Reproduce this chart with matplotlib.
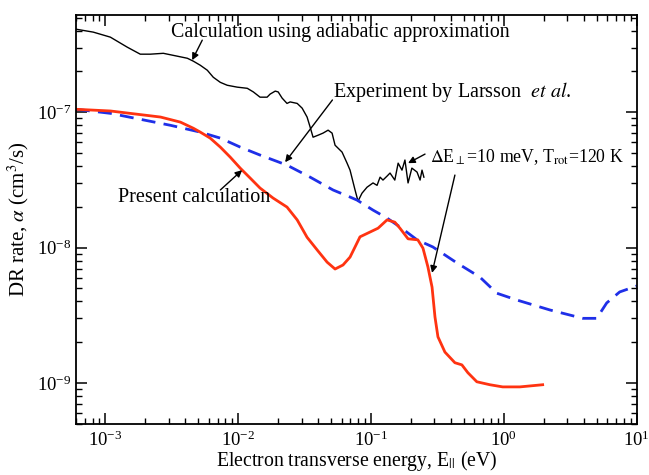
import numpy as np
import matplotlib
matplotlib.use("Agg")
import matplotlib.pyplot as plt
from matplotlib.ticker import LogLocator, NullFormatter

plt.rcParams['font.family'] = ['Liberation Serif', 'DejaVu Serif']
plt.rcParams['mathtext.fontset'] = 'stix'

# present calculation (red)
e_pres = [6.0e-4, 1.09e-3, 2.6e-3, 3.67e-3, 4.6e-3, 5.18e-3, 6.15e-3, 7.33e-3, 8.71e-3,
          1.035e-2, 1.23e-2, 1.46e-2, 1.83e-2, 2.33e-2, 2.78e-2, 3.3e-2, 3.93e-2, 4.67e-2,
          5.36e-2, 6.15e-2, 6.95e-2, 7.58e-2, 8.26e-2, 9.8e-2, 0.113, 0.132, 0.151, 0.165,
          0.19, 0.225, 0.246, 0.268, 0.288, 0.303, 0.319, 0.36, 0.428, 0.483, 0.536, 0.626,
          0.785, 0.98, 1.32, 1.96]
a_pres = [1.05e-7, 1.02e-7, 9.2e-8, 8.44e-8, 7.6e-8, 7.12e-8, 6.43e-8, 5.52e-8, 4.65e-8,
          3.86e-8, 3.26e-8, 2.75e-8, 2.32e-8, 1.99e-8, 1.6e-8, 1.19e-8, 9.6e-9, 7.8e-9,
          6.94e-9, 7.43e-9, 8.5e-9, 1.01e-8, 1.2e-8, 1.3e-8, 1.39e-8, 1.6e-8, 1.54e-8, 1.39e-8,
          1.16e-8, 1.14e-8, 9.9e-9, 7.2e-9, 5.1e-9, 3.07e-9, 2.19e-9, 1.69e-9, 1.41e-9, 1.36e-9,
          1.19e-9, 1.02e-9, 9.7e-10, 9.35e-10, 9.35e-10, 9.7e-10]

# experiment by Larsson et al. (blue dashed)
e_exp = [6.0e-4, 1.09e-3, 3.08e-3, 5.18e-3, 7.33e-3, 1.035e-2, 1.46e-2, 2.33e-2, 3.48e-2,
         5.18e-2, 6.95e-2, 7.85e-2, 0.1035, 0.132, 0.165, 0.222, 0.292, 0.443, 0.66, 0.885,
         1.25, 2.22, 3.93, 5.0, 5.95, 7.45, 10.0]
a_exp = [1.05e-7, 9.8e-8, 8.0e-8, 7.12e-8, 6.43e-8, 5.52e-8, 4.82e-8, 4.06e-8, 3.31e-8,
         2.66e-8, 2.36e-8, 2.24e-8, 1.89e-8, 1.65e-8, 1.42e-8, 1.14e-8, 1.01e-8, 7.7e-9,
         6.05e-9, 4.6e-9, 4.1e-9, 3.46e-9, 3.0e-9, 3.0e-9, 3.9e-9, 4.7e-9, 5.2e-9]

# calculation using adiabatic approximation (black)
e_adi = [6.0e-4, 8.1e-4, 1.09e-3, 1.46e-3, 1.83e-3, 2.18e-3, 2.73e-3, 3.48e-3, 4.14e-3,
         4.59e-3, 5.18e-3, 5.85e-3, 6.49e-3, 7.33e-3, 8.26e-3, 9.82e-3, 1.17e-2, 1.3e-2,
         1.46e-2, 1.65e-2, 1.74e-2, 1.9e-2, 2.0e-2, 2.14e-2, 2.33e-2, 2.46e-2, 2.78e-2,
         3.03e-2, 3.3e-2, 3.48e-2, 3.66e-2, 4.0e-2, 4.35e-2, 4.75e-2, 5.09e-2, 5.36e-2,
         6.05e-2, 6.6e-2, 6.95e-2, 7.58e-2, 7.98e-2, 8.55e-2, 9.33e-2, 0.1035, 0.111,
         0.117, 0.123, 0.132, 0.139, 0.151, 0.16, 0.171, 0.18, 0.19, 0.203, 0.222, 0.234,
         0.242, 0.25]
a_adi = [4.1e-7, 3.9e-7, 3.58e-7, 3.02e-7, 2.68e-7, 2.68e-7, 2.72e-7, 2.59e-7, 2.5e-7,
         2.38e-7, 2.22e-7, 2.04e-7, 1.81e-7, 1.66e-7, 1.58e-7, 1.53e-7, 1.5e-7, 1.41e-7,
         1.29e-7, 1.29e-7, 1.36e-7, 1.43e-7, 1.41e-7, 1.27e-7, 1.16e-7, 1.19e-7, 1.16e-7,
         1.07e-7, 9.2e-8, 7.75e-8, 6.53e-8, 6.76e-8, 7.0e-8, 7.36e-8, 7.0e-8, 5.7e-8,
         5.07e-8, 4.2e-8, 3.73e-8, 2.66e-8, 2.2e-8, 2.52e-8, 2.79e-8, 3.0e-8, 2.88e-8,
         3.31e-8, 3.15e-8, 3.37e-8, 3.55e-8, 3.15e-8, 4.2e-8, 3.73e-8, 4.43e-8, 3.0e-8,
         3.86e-8, 3.61e-8, 3.15e-8, 3.73e-8, 3.31e-8]

fig = plt.figure(figsize=(6.49, 4.75), dpi=100)
ax = fig.add_axes([0.117, 0.108, 0.864, 0.86])

ax.plot(e_adi, a_adi, color='black', lw=1.0)
ax.plot(e_exp, a_exp, color='#1f2fe8', lw=2.0, dashes=(5, 3))
ax.plot(e_pres, a_pres, color='#ff3311', lw=2.0)

ax.set_xscale('log')
ax.set_yscale('log')
ax.set_xlim(6e-4, 10)
ax.set_ylim(5e-10, 5.2e-7)

ax.xaxis.set_minor_locator(LogLocator(base=10, subs=np.arange(2, 10)))
ax.yaxis.set_minor_locator(LogLocator(base=10, subs=np.arange(2, 10)))
ax.xaxis.set_minor_formatter(NullFormatter())
ax.yaxis.set_minor_formatter(NullFormatter())
ax.tick_params(which='both', direction='in', top=True, right=True, labelsize=13.5)
ax.tick_params(axis='x', pad=5)
ax.tick_params(which='major', length=8, width=1.1)
ax.tick_params(which='minor', length=4, width=1.0)
for s in ax.spines.values():
    s.set_linewidth(1.3)

ax.set_xlabel(r'Electron transverse energy, E$_{||}$ (eV)', fontsize=14.2, labelpad=-1)
ax.set_ylabel(r'DR rate, $\alpha$ (cm$^3$/s)', fontsize=15, labelpad=4)

arr = dict(arrowstyle='-|>', color='black', lw=1.0, mutation_scale=10, shrinkA=0, shrinkB=0)

ax.text(0.0585, 3.9e-7, 'Calculation using adiabatic approximation', fontsize=14.3,
        ha='center', va='center')
ax.annotate('', xy=(4.5e-3, 2.42e-7), xytext=(5.36e-3, 3.4e-7), arrowprops=arr)

ax.text(0.0518, 1.41e-7, r'Experiment by Larsson  $\mathit{et\ al}$.', fontsize=14.5,
        ha='left', va='center')
ax.annotate('', xy=(0.02255, 4.27e-8), xytext=(0.0512, 1.23e-7), arrowprops=arr)

ax.text(1.25e-3, 2.36e-8, 'Present calculation', fontsize=14.5, ha='left', va='center')
ax.annotate('', xy=(1.07e-2, 3.73e-8), xytext=(7.33e-3, 2.66e-8), arrowprops=arr)

ax.text(0.278, 4.65e-8, r'$\Delta$E$_{\perp}$=10 meV, T$_{\rm rot}$=120 K', fontsize=12.8,
        ha='left', va='center')
ax.annotate('', xy=(0.19, 4.2e-8), xytext=(0.255, 4.9e-8), arrowprops=arr)
ax.annotate('', xy=(0.288, 6.5e-9), xytext=(0.428, 3.43e-8), arrowprops=arr)

fig.savefig('out.png', dpi=100)
